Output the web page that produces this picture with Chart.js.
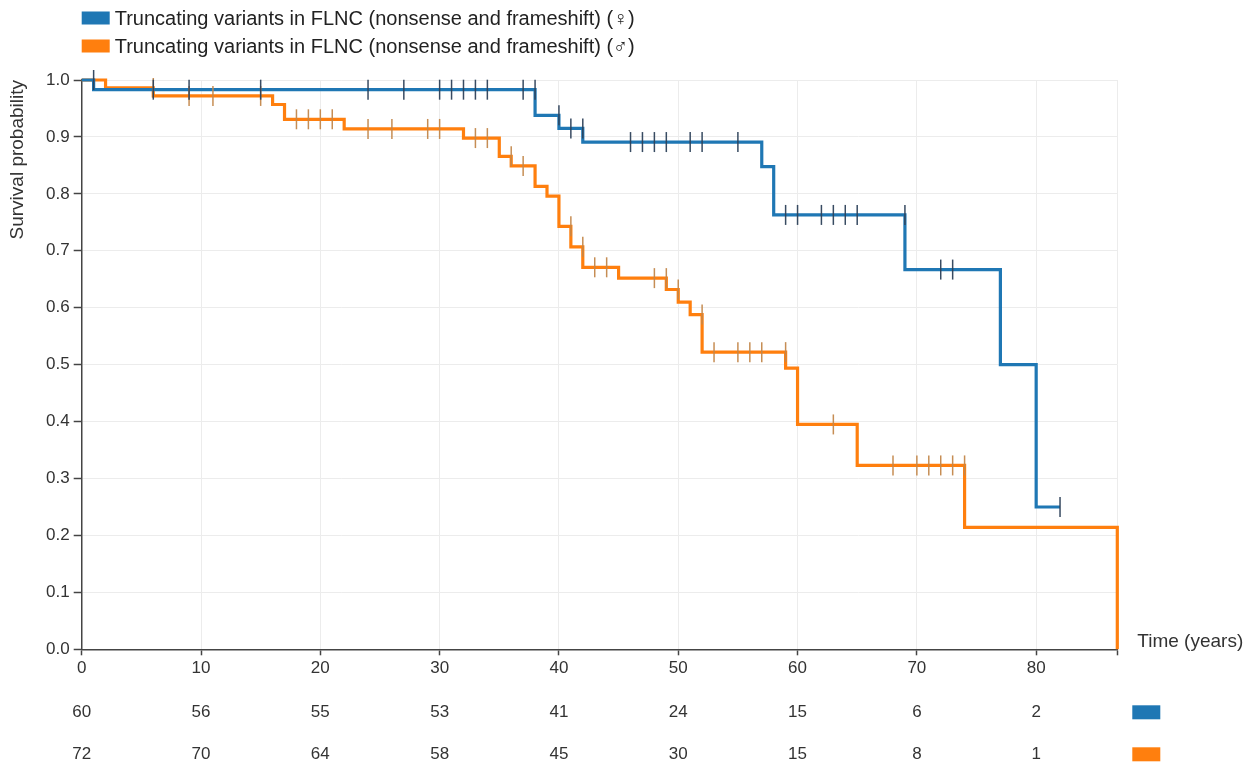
<!DOCTYPE html>
<html><head><meta charset="utf-8">
<script src="https://cdn.jsdelivr.net/npm/chart.js@4"></script>
<style>html,body{margin:0;padding:0;background:#fff;}#wrap{width:1259px;height:766px;position:relative}</style>
</head><body><div id="wrap"><canvas id="c" width="1259" height="766"></canvas></div>
<script>
const seriesNames = ['Truncating variants in FLNC (nonsense and frameshift) (\u2640)', 'Truncating variants in FLNC (nonsense and frameshift) (\u2642)'];
// Kaplan-Meier steps (time in years, survival probability)
const femaleTimes = [0, 1, 38, 40, 42, 57, 58, 69, 77, 80, 82];
const femaleSurv  = [1, 0.983, 0.938, 0.915, 0.891, 0.848, 0.763, 0.667, 0.5, 0.25, 0.25];
const femaleCensorTimes = [1, 6, 9, 15, 24, 27, 30, 31, 32, 33, 34, 37, 38, 40, 41, 42, 46, 47, 48, 49, 51, 52, 55, 59, 60, 62, 63, 64, 65, 69, 72, 73, 82];
const femaleCensorSurv  = [1, 0.983, 0.983, 0.983, 0.983, 0.983, 0.983, 0.983, 0.983, 0.983, 0.983, 0.983, 0.983, 0.938, 0.915, 0.915, 0.891, 0.891, 0.891, 0.891, 0.891, 0.891, 0.891, 0.763, 0.763, 0.763, 0.763, 0.763, 0.763, 0.763, 0.667, 0.667, 0.25];
const maleTimes = [0, 2, 6, 16, 17, 22, 32, 35, 36, 38, 39, 40, 41, 42, 45, 49, 50, 51, 52, 59, 60, 65, 74, 86.8];
const maleSurv  = [1, 0.986, 0.972, 0.957, 0.931, 0.914, 0.898, 0.866, 0.849, 0.813, 0.796, 0.743, 0.707, 0.671, 0.652, 0.632, 0.610, 0.588, 0.522, 0.494, 0.395, 0.323, 0.214, 0];
const maleCensorTimes = [6, 9, 11, 15, 18, 19, 20, 21, 24, 26, 29, 30, 33, 34, 36, 37, 41, 42, 43, 44, 48, 49, 50, 52, 53, 55, 56, 57, 59, 63, 68, 70, 71, 72, 73, 74];
const maleCensorSurv  = [0.986, 0.972, 0.972, 0.972, 0.931, 0.931, 0.931, 0.931, 0.914, 0.914, 0.914, 0.914, 0.898, 0.898, 0.866, 0.849, 0.743, 0.707, 0.671, 0.671, 0.652, 0.652, 0.632, 0.588, 0.522, 0.522, 0.522, 0.522, 0.522, 0.395, 0.323, 0.323, 0.323, 0.323, 0.323, 0.323];
// axis ticks and number-at-risk table
const xTickValues = [0, 10, 20, 30, 40, 50, 60, 70, 80];
const xMax = 86.8;
const riskTimes  = [0, 10, 20, 30, 40, 50, 60, 70, 80];
const riskFemale = [60, 56, 55, 53, 41, 24, 15, 6, 2];
const riskMale   = [72, 70, 64, 58, 45, 30, 15, 8, 1];
const xTitle = 'Time (years)';
const yTitle = 'Survival probability';

const BLUE = '#1f77b4', ORANGE = '#ff7f0e';
const BLUE_TICK = 'rgba(45,65,90,0.95)', ORANGE_TICK = 'rgba(195,135,75,0.95)';
const FONT = "'Liberation Sans', Arial, sans-serif";
Chart.defaults.font.family = FONT;

const pts = (xs, ys) => xs.map((x, i) => ({x: x, y: ys[i]}));

const overlay = {
  id: 'overlay',
  afterDraw(chart) {
    const {ctx, chartArea: a, scales: {x, y}} = chart;
    ctx.save();
    // legend
    const colors = [BLUE, ORANGE];
    ctx.font = '20px ' + FONT;
    ctx.textBaseline = 'middle';
    ctx.textAlign = 'left';
    [18, 46].forEach((cy, i) => {
      ctx.fillStyle = colors[i];
      ctx.fillRect(a.left, cy - 6.5, 28, 13);
      ctx.fillStyle = '#222';
      ctx.fillText(seriesNames[i], a.left + 33, cy + 1);
    });
    // x title
    ctx.font = '19px ' + FONT;
    ctx.fillStyle = '#333';
    ctx.fillText(xTitle, a.right + 20, a.bottom - 8);
    // risk table
    ctx.font = '17px ' + FONT;
    ctx.textAlign = 'center';
    const rows = [[riskFemale, a.bottom + 63, BLUE], [riskMale, a.bottom + 105, ORANGE]];
    rows.forEach(([vals, cy, col]) => {
      ctx.fillStyle = '#333';
      riskTimes.forEach((t, i) => ctx.fillText(String(vals[i]), x.getPixelForValue(t), cy));
      ctx.fillStyle = col;
      ctx.fillRect(a.right + 15, cy - 7, 28, 14);
    });
    ctx.restore();
  }
};

new Chart(document.getElementById('c'), {
  type: 'scatter',
  data: {
    datasets: [
      {label: 'censor F', data: pts(femaleCensorTimes, femaleCensorSurv), showLine: false,
       pointStyle: 'line', rotation: 90, pointRadius: 10, pointHoverRadius: 10,
       pointBorderColor: BLUE_TICK, pointBorderWidth: 1.5, borderColor: BLUE_TICK, clip: false},
      {label: 'censor M', data: pts(maleCensorTimes, maleCensorSurv), showLine: false,
       pointStyle: 'line', rotation: 90, pointRadius: 10, pointHoverRadius: 10,
       pointBorderColor: ORANGE_TICK, pointBorderWidth: 1.5, borderColor: ORANGE_TICK, clip: false},
      {label: seriesNames[0], data: pts(femaleTimes, femaleSurv), showLine: true, stepped: true,
       borderColor: BLUE, backgroundColor: BLUE, borderWidth: 3.2, pointRadius: 0, fill: false, clip: 3},
      {label: seriesNames[1], data: pts(maleTimes, maleSurv), showLine: true, stepped: true,
       borderColor: ORANGE, backgroundColor: ORANGE, borderWidth: 3.2, pointRadius: 0, fill: false, clip: 3}
    ]
  },
  options: {
    animation: false, responsive: false, events: [],
    layout: {padding: {top: 80, right: 1259 - 1117.3, bottom: 0, left: 0}},
    plugins: {legend: {display: false}, tooltip: {enabled: false}},
    scales: {
      x: {
        type: 'linear', min: 0, max: xMax,
        afterBuildTicks: s => { s.ticks = xTickValues.concat([xMax]).map(v => ({value: v})); },
        afterFit: s => { s.height = 766 - 649.3; },
        ticks: {autoSkip: false, maxRotation: 0, minRotation: 0, padding: 3, color: '#333', font: {size: 17},
                callback: v => xTickValues.includes(v) ? String(v) : ''},
        grid: {color: '#ececec', lineWidth: 1, tickLength: 6, tickColor: '#444', tickWidth: 1.5},
        border: {color: '#444', width: 1.5}
      },
      y: {
        min: 0, max: 1,
        afterFit: s => { s.width = 81.7; },
        ticks: {stepSize: 0.1, padding: 4, color: '#333', font: {size: 17}, callback: v => v.toFixed(1)},
        grid: {color: '#ececec', lineWidth: 1, tickLength: 8, tickColor: '#444', tickWidth: 1.5},
        border: {color: '#444', width: 1.5},
        title: {display: true, text: yTitle, align: 'end', color: '#333', font: {size: 19}, padding: {top: 6, bottom: 0}}
      }
    }
  },
  plugins: [overlay]
});
</script></body></html>
